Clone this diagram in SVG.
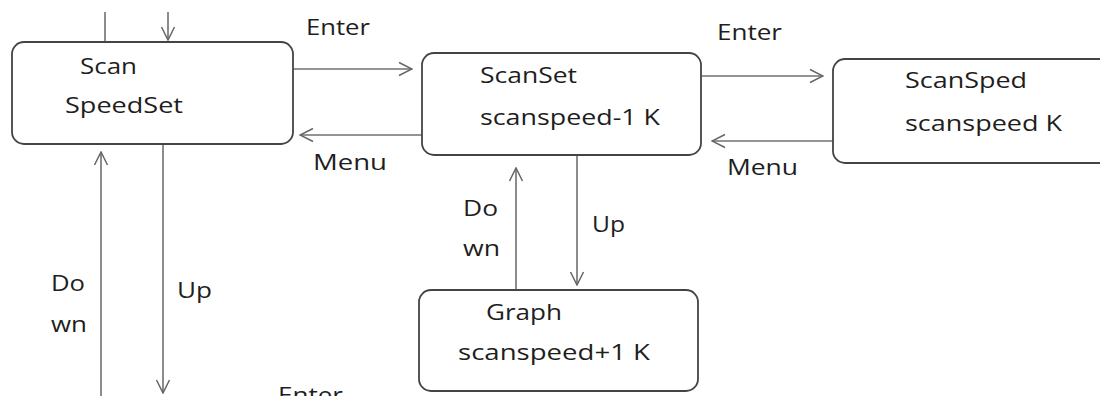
<svg xmlns="http://www.w3.org/2000/svg" width="1100" height="396" viewBox="0 0 1100 396">
  <defs>
    <marker id="arr" viewBox="0 0 16 16" refX="15" refY="8" markerWidth="16" markerHeight="16" markerUnits="userSpaceOnUse" orient="auto">
      <path d="M2,1.5 L15,8 L2,14.5" fill="none" stroke="#666" stroke-width="1.5"/>
    </marker>
    <style>
      .box { fill: #fff; stroke: #444; stroke-width: 1.8; }
      .t { font-family: "Open Sans", "Liberation Sans", sans-serif; font-size: 22px; fill: #1e1e1e; }
      .c { fill: none; stroke: #707070; stroke-width: 1.6; }
    </style>
  </defs>
  <rect width="1100" height="396" fill="#fff"/>

  <g id="connectors">
    <path class="c" d="M105,12 V42"/>
    <path class="c" d="M168,12 V40" marker-end="url(#arr)"/>
    <path class="c" d="M293,69 H412" marker-end="url(#arr)"/>
    <path class="c" d="M422,135 H300" marker-end="url(#arr)"/>
    <path class="c" d="M701,76 H823" marker-end="url(#arr)"/>
    <path class="c" d="M833,141 H712" marker-end="url(#arr)"/>
    <path class="c" d="M516,290 V168" marker-end="url(#arr)"/>
    <path class="c" d="M577,155 V285" marker-end="url(#arr)"/>
    <path class="c" d="M101,396 V152" marker-end="url(#arr)"/>
    <path class="c" d="M163,144 V393" marker-end="url(#arr)"/>
    <text class="t" x="306" y="35" textLength="64" lengthAdjust="spacingAndGlyphs">Enter</text>
    <text class="t" x="313" y="170" textLength="74" lengthAdjust="spacingAndGlyphs">Menu</text>
    <text class="t" x="717" y="40" textLength="65" lengthAdjust="spacingAndGlyphs">Enter</text>
    <text class="t" x="727" y="175" textLength="71" lengthAdjust="spacingAndGlyphs">Menu</text>
    <text class="t" x="463" y="216" textLength="35" lengthAdjust="spacingAndGlyphs">Do</text>
    <text class="t" x="463" y="256" textLength="37" lengthAdjust="spacingAndGlyphs">wn</text>
    <text class="t" x="592" y="232" textLength="33" lengthAdjust="spacingAndGlyphs">Up</text>
    <text class="t" x="51" y="291" textLength="34" lengthAdjust="spacingAndGlyphs">Do</text>
    <text class="t" x="51" y="332" textLength="36" lengthAdjust="spacingAndGlyphs">wn</text>
    <text class="t" x="177" y="298" textLength="35" lengthAdjust="spacingAndGlyphs">Up</text>
    <text class="t" x="278" y="403" textLength="65" lengthAdjust="spacingAndGlyphs">Enter</text>
  </g>

  <g id="node-scan-speedset">
    <rect class="box" x="12" y="42" width="281" height="102" rx="12"/>
    <text class="t" x="80" y="74" textLength="57" lengthAdjust="spacingAndGlyphs">Scan</text>
    <text class="t" x="65" y="113" textLength="118" lengthAdjust="spacingAndGlyphs">SpeedSet</text>
  </g>

  <g id="node-scanset">
    <rect class="box" x="422" y="53" width="279" height="102" rx="12"/>
    <text class="t" x="480" y="83" textLength="97" lengthAdjust="spacingAndGlyphs">ScanSet</text>
    <text class="t" x="480" y="125" textLength="180" lengthAdjust="spacingAndGlyphs">scanspeed-1 K</text>
  </g>

  <g id="node-scansped">
    <rect class="box" x="833" y="59" width="290" height="104" rx="12"/>
    <text class="t" x="905" y="88" textLength="122" lengthAdjust="spacingAndGlyphs">ScanSped</text>
    <text class="t" x="905" y="131" textLength="157" lengthAdjust="spacingAndGlyphs">scanspeed K</text>
  </g>

  <g id="node-graph">
    <rect class="box" x="419" y="290" width="279" height="101" rx="12"/>
    <text class="t" x="486" y="320" textLength="76" lengthAdjust="spacingAndGlyphs">Graph</text>
    <text class="t" x="458" y="360" textLength="192" lengthAdjust="spacingAndGlyphs">scanspeed+1  K</text>
  </g>
</svg>
